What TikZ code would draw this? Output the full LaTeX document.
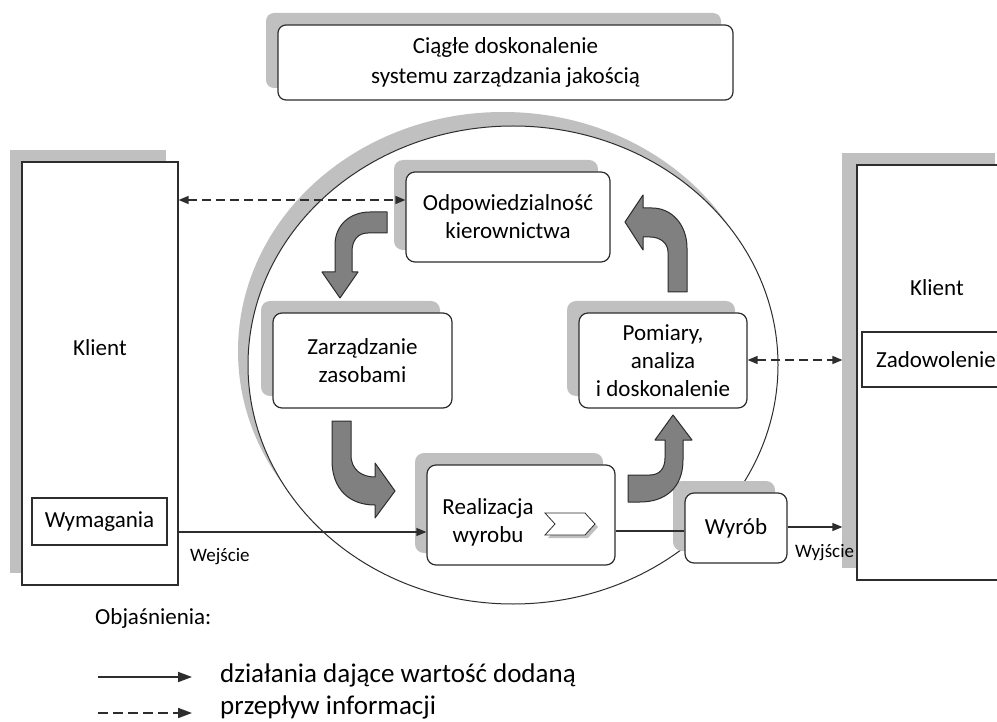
\documentclass[tikz,border=0pt]{standalone}
\usepackage{fontspec}
\setmainfont{Carlito}
\usetikzlibrary{arrows.meta,shadows}
\definecolor{shd}{RGB}{192,192,192}
\definecolor{arr}{RGB}{128,128,128}
\definecolor{ink}{RGB}{45,45,45}
\begin{document}
\begin{tikzpicture}[x=1pt,y=-1pt,
  font=\fontsize{23}{28}\selectfont,
  bsh/.style={general shadow={fill=shd, shadow xshift=-12pt, shadow yshift=12pt}},
  box/.style={draw=ink, line width=1.2pt, fill=white, rounded corners=9pt, inner sep=0pt, align=center, bsh},
  sbox/.style={draw=ink, line width=1.2pt, fill=white, inner sep=0pt, align=center},
  lbl/.style={inner sep=0pt, anchor=west},
  small/.style={font=\fontsize{19}{22}\selectfont},
  legtext/.style={font=\fontsize{27}{30}\selectfont},
  flow/.style={-{Triangle[length=10pt,width=8pt]}, line width=1.2pt, draw=ink},
  info/.style={{Triangle[length=10pt,width=8pt]}-{Triangle[length=10pt,width=8pt]}, line width=1.4pt, dash pattern=on 9pt off 5pt, draw=ink},
  bent/.style={fill=arr, draw=ink, line width=1pt, line join=round},
]
\useasboundingbox (0,0) rectangle (997,722);
\clip (0,0) rectangle (997,722);
\fill[white] (0,0) rectangle (997,722);

% big circle with shadow
\fill[shd] (503,351) ellipse [x radius=265pt, y radius=239pt];
\draw[ink, fill=white, line width=1pt] (513,365) ellipse [x radius=265pt, y radius=239pt];

% title box
\node[box, rounded corners=8pt, minimum width=455pt, minimum height=75pt, font=\fontsize{23}{30}\selectfont] (title) at (505.5,62.5) {Ciągłe doskonalenie\\systemu zarządzania jakością};

% left client
\node[sbox, bsh, minimum width=156pt, minimum height=423pt] (klientL) at (100,373.5) {};
\node (klientLt) at (100,348) {Klient};
\node[sbox, minimum width=135pt, minimum height=47pt] (wym) at (99.5,521.5) {Wymagania};

% right client
\node[sbox, general shadow={fill=shd, shadow xshift=-15pt, shadow yshift=12pt}, minimum width=153pt, minimum height=415pt] (klientR) at (933.5,372.5) {};
\node (klientRt) at (937,288) {Klient};
\node[sbox, minimum width=148pt, minimum height=55pt] (zad) at (936,359.5) {Zadowolenie};
\coordinate (kRedge) at ([xshift=-14pt]klientR.west);

% process boxes
\node[box, minimum width=204pt, minimum height=90pt] (odp) at (508,217) {Odpowiedzialność\\kierownictwa};
\node[box, minimum width=179pt, minimum height=95pt] (zarz) at (362.5,360.5) {Zarządzanie\\zasobami};
\node[box, minimum width=168pt, minimum height=95pt] (pom) at (663,360.5) {Pomiary,\\analiza\\i doskonalenie};
\node[box, minimum width=188pt, minimum height=100pt] (real) at (521,515) {};
\node[inner sep=0pt, align=center] (realt) at (488,522) {Realizacja\\wyrobu};
\node[box, minimum width=102pt, minimum height=70pt] (wyrob) at (736,528) {Wyrób};

% chevron inside Realizacja
\fill[shd] (548,516) -- (588,516) -- (598,527) -- (588,538) -- (548,538) -- (558,527) -- cycle;
\draw[ink, fill=white, line width=0.8pt] (545,513) -- (585,513) -- (595,524) -- (585,535) -- (545,535) -- (555,524) -- cycle;

% bent block arrows
\draw[bent] (387,212) -- (387,233) -- (368,233) .. controls (358,233) and (352,240) .. (352,252) -- (352,272) -- (358,272) -- (340,298) -- (322,272) -- (335,272) -- (335,245) .. controls (335,225) and (350,212) .. (370,212) -- cycle;
\draw[bent] (332,421) -- (351,421) -- (351,455) .. controls (351,470) and (362,477) .. (375,477) -- (375,463) -- (395,491) -- (375,518) -- (375,505) .. controls (350,505) and (332,490) .. (332,460) -- cycle;
\draw[bent] (628,475) -- (650,475) .. controls (660,475) and (665,468) .. (665,458) -- (665,440) -- (655,440) -- (673,415) -- (692,440) -- (683,440) -- (683,460) .. controls (683,488) and (665,502) .. (640,502) -- (628,502) -- cycle;
\draw[bent] (668,292) -- (668,252) .. controls (668,243) and (660,237) .. (650,237) -- (643,237) -- (643,250) -- (625,222) -- (643,195) -- (643,208) -- (652,208) .. controls (672,208) and (687,225) .. (687,248) -- (687,292) -- cycle;

% connectors
\coordinate (yIn) at (0,532);
\draw[flow] (klientL.east |- yIn) -- (real.west |- yIn);
\node[lbl, small] (wej) at (190,557) {Wejście};
\coordinate (yMid) at (0,531);
\draw[ink, line width=1.2pt] (real.east |- yMid) -- (wyrob.west |- yMid);
\coordinate (yOut) at (0,527);
\draw[flow] (wyrob.east |- yOut) -- (kRedge |- yOut);
\node[lbl, small] (wyj) at (795,553) {Wyjście};
\coordinate (yTop) at (0,200);
\draw[info] (klientL.east |- yTop) -- (odp.west |- yTop);
\coordinate (yPom) at (0,360);
\draw[info] (pom.east |- yPom) -- (kRedge |- yPom);

% legend
\node[lbl] (obj) at (95,618) {Objaśnienia:};
\coordinate (l1a) at (98,677);
\coordinate (l1b) at (192,677);
\draw[-{Triangle[length=14pt,width=10pt]}, line width=1.8pt, draw=ink] (l1a) -- (l1b);
\node[lbl, legtext] (leg1) at (220,675) {działania dające wartość dodaną};
\coordinate (l2a) at (98,713);
\coordinate (l2b) at (192,713);
\draw[-{Triangle[length=14pt,width=10pt]}, line width=1.8pt, dash pattern=on 10pt off 5pt, draw=ink] (l2a) -- (l2b);
\node[lbl, legtext] (leg2) at (220,707) {przepływ informacji};
\end{tikzpicture}
\end{document}
